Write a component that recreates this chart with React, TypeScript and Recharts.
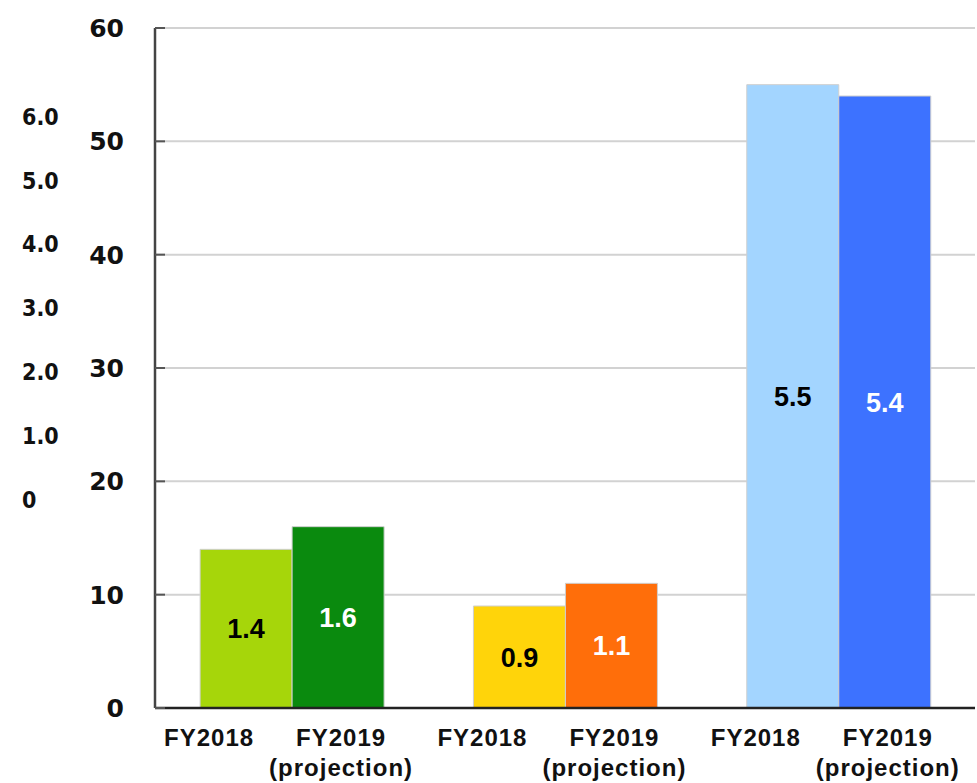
import { Bar, BarChart, CartesianGrid, Cell, LabelList, XAxis, YAxis } from "recharts";

const GROUPS = ["Group A", "Group B", "Group C"];
const FY2018 = [14, 9, 55];
const FY2019 = [16, 11, 54];
const COLORS_2018 = ["#a6d60a", "#ffd40a", "#a3d5ff"];
const COLORS_2019 = ["#0a8a0e", "#ff6e0a", "#3d72ff"];
const LABEL_2018 = ["FY2018"];
const LABEL_2019 = ["FY2019", "(projection)"];
const Y_TICKS = [0, 10, 20, 30, 40, 50, 60];
const SIDE_LABELS = ["6.0", "5.0", "4.0", "3.0", "2.0", "1.0", "0"];

const data = GROUPS.map((g, i) => ({ group: g, fy2018: FY2018[i], fy2019: FY2019[i] }));

const TICK_FONT = "'DejaVu Sans', Verdana, sans-serif";
const ARIAL = "'Liberation Sans', Arial, sans-serif";

function YTick(props: any) {
  const { x, y, payload } = props;
  return (
    <g>
      <line x1={x + 31} x2={x + 41} y1={y} y2={y} stroke="#555" strokeWidth={2} />
      <text x={x} y={y} dy={9} textAnchor="end" fontFamily={TICK_FONT} fontWeight="bold" fontSize={25} fill="#111">
        {payload.value}
      </text>
    </g>
  );
}

// category labels sit under each bar; the FY2018 ones are nudged left like the original
function xLabel(lines: string[], dx: number) {
  return (props: any) => {
    const vb = props.viewBox ?? props;
    const cx = vb.x + vb.width / 2 + dx;
    const base = vb.y + vb.height;
    return (
      <g>
        {lines.map((l, i) => (
          <text
            key={i}
            x={cx}
            y={base + 38 + i * 30}
            textAnchor="middle"
            fontFamily={ARIAL}
            fontWeight="bold"
            fontSize={24}
            letterSpacing={1}
            fill="#111"
          >
            {l}
          </text>
        ))}
      </g>
    );
  };
}

const fmt = (v: any) => (Number(v) / 10).toFixed(1);

export default function App() {
  return (
    <div style={{ position: "absolute", left: 0, top: 0, width: 977, height: 783, background: "#fff" }}>
      <BarChart
        width={977}
        height={783}
        data={data}
        margin={{ top: 28, right: 2, left: 0, bottom: 0 }}
        barCategoryGap="16.5%"
        barGap={0}
      >
        <CartesianGrid vertical={false} stroke="#d2d2d2" strokeWidth={2} />
        <XAxis dataKey="group" tick={false} tickLine={false} height={75} axisLine={{ stroke: "#222", strokeWidth: 2.5 }} />
        <YAxis
          width={155}
          domain={[0, 60]}
          ticks={Y_TICKS}
          tickSize={0}
          tickMargin={31}
          tickLine={false}
          axisLine={{ stroke: "#444", strokeWidth: 2.5 }}
          tick={YTick}
        />
        <Bar dataKey="fy2018" isAnimationActive={false} stroke="#cfcfcf" strokeWidth={1}>
          {data.map((_, i) => (
            <Cell key={i} fill={COLORS_2018[i]} />
          ))}
          <LabelList
            dataKey="fy2018"
            position="center"
            formatter={fmt}
            fill="#000"
            fontFamily={ARIAL}
            fontWeight="bold"
            fontSize={27}
          />
          <LabelList dataKey="fy2018" content={xLabel(LABEL_2018, -37)} />
        </Bar>
        <Bar dataKey="fy2019" isAnimationActive={false} stroke="#cfcfcf" strokeWidth={1}>
          {data.map((_, i) => (
            <Cell key={i} fill={COLORS_2019[i]} />
          ))}
          <LabelList
            dataKey="fy2019"
            position="center"
            formatter={fmt}
            fill="#fff"
            fontFamily={ARIAL}
            fontWeight="bold"
            fontSize={27}
          />
          <LabelList dataKey="fy2019" content={xLabel(LABEL_2019, 3)} />
        </Bar>
      </BarChart>
      <div
        style={{
          position: "absolute",
          left: 22,
          top: 85,
          display: "flex",
          flexDirection: "column",
          fontFamily: "'DejaVu Sans Condensed', 'DejaVu Sans', sans-serif",
          fontWeight: "bold",
          fontSize: 23,
          color: "#111",
        }}
      >
        {SIDE_LABELS.map((s) => (
          <div key={s} style={{ height: 63.8, display: "flex", alignItems: "center" }}>
            {s}
          </div>
        ))}
      </div>
    </div>
  );
}
